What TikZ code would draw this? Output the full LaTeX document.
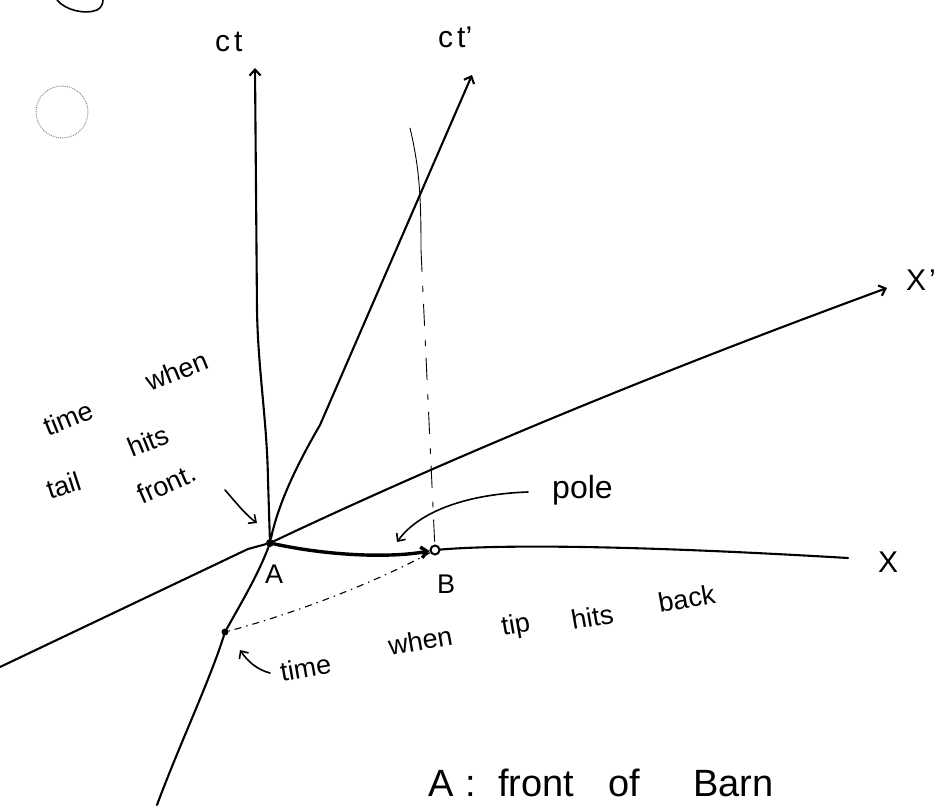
\documentclass[tikz,border=0pt]{standalone}
\usepackage{fontspec}
\setmainfont{Liberation Sans}
\usetikzlibrary{arrows.meta}
\begin{document}
\begin{tikzpicture}[x=1pt,y=-1pt,
  axis/.style={line width=2.1pt, line cap=round, line join=round},
  boldaxis/.style={line width=3.4pt, line cap=round},
  pointer/.style={line width=1.6pt, line cap=round, line join=round},
  barb/.style={-{Straight Barb[length=6pt,width=11pt]}},
  thinline/.style={line width=0.9pt, line cap=round},
  dashdot/.style={line width=1.1pt, dash pattern=on 7pt off 5pt on 1.5pt off 5pt},
  vdash/.style={line width=0.9pt, dash pattern=on 22pt off 14pt on 6pt off 12pt},
  pointdot/.style={circle, fill=black, inner sep=0pt, minimum size=8pt},
  ringdot/.style={circle, draw=black, line width=2pt, inner sep=0pt, minimum size=9pt},
  lbl/.style={inner sep=0pt, font=\fontsize{30}{34}\selectfont},
  ptlbl/.style={inner sep=0pt, font=\fontsize{27}{30}\selectfont},
  note/.style={inner sep=0pt, font=\fontsize{27}{30}\selectfont, anchor=base west},
  bignote/.style={inner sep=0pt, font=\fontsize{38}{42}\selectfont, anchor=base west}]
\useasboundingbox (0,0) rectangle (944,805);
\fill[white] (0,0) rectangle (944,805);

% scan artefacts
\draw[line width=1.6pt] (57,0) .. controls (65,10) and (85,15) .. (97,10) .. controls (101,8) and (103,4) .. (103,0);
\draw[gray, line width=0.9pt, densely dotted] (62,112) circle (26);

% points
\node[pointdot] (A) at (270,543) {};
\node[ringdot] (B) at (435,550) {};
\node[circle, fill=black, inner sep=0pt, minimum size=7pt] (D) at (225,632) {};

% coordinates
\coordinate (ctTop) at (255,68);
\coordinate (ctpTop) at (472,75);
\coordinate (xpTip) at (887,288);
\coordinate (xEnd) at (848,558);
\coordinate (xpStart) at (0,667);
\coordinate (ctBot) at (157,805);
\coordinate (vTop) at (410,128);
\coordinate (vMid) at (421,250);
\coordinate (poleStart) at (528,492);
\coordinate (poleTip) at (397,542);
\coordinate (frontStart) at (225,490);
\coordinate (frontTip) at (257,523);
\coordinate (backStart) at (270,673);
\coordinate (backTip) at (240,650);

% axes
\draw[axis, barb] (A) -- (268,480) .. controls (267,420) and (258,370) .. (257,310) -- (ctTop);
\draw[axis, barb] (A) .. controls (278,505) and (295,468) .. (320,425) -- (ctpTop);
\draw[axis] (xpStart) -- (248,549) -- (A);
\draw[axis, barb] (A) .. controls (450,458) and (650,375) .. (xpTip);
\draw[axis] (B) .. controls (520,543) and (680,548) .. (xEnd);
\draw[boldaxis, barb] (A) .. controls (330,556) and (390,558) .. (B);
\draw[axis] (A) .. controls (258,575) and (240,605) .. (D);
\draw[axis] (D) .. controls (210,680) and (178,748) .. (ctBot);

% dashed construction lines
\draw[dashdot] (B) .. controls (380,580) and (300,612) .. (D);
\draw[thinline] (vTop) .. controls (420,170) and (421,200) .. (vMid);
\draw[vdash] (vMid) -- (B);

% annotation arrows
\draw[pointer, barb] (poleStart) .. controls (470,494) and (420,510) .. (poleTip);
\draw[pointer, barb] (frontStart) .. controls (238,505) and (246,515) .. (frontTip);
\draw[pointer, barb] (backStart) .. controls (258,670) and (248,662) .. (backTip);

% labels
\node[lbl, anchor=base west] (ct) at (215,52) {c\hspace{4pt}t};
\node[lbl, anchor=base west] (ctp) at (438,48) {c\hspace{4pt}t'};
\node[lbl, anchor=base west] (xpl) at (906,290) {X\hspace{3pt}'};
\node[lbl, anchor=base west] (xl) at (878,572) {X};
\node[ptlbl, anchor=base west] (labA) at (265,583) {A};
\node[ptlbl, anchor=base west] (labB) at (437,593) {B};
\node[lbl, font=\fontsize{32}{36}\selectfont, anchor=base west] (pole) at (552,498) {pole};

% note: time when tail hits front.
\node[note, rotate=22] (w1) at (48,437) {time};
\node[note, rotate=22] (w2) at (150,392) {when};
\node[note, rotate=18] (w3) at (50,500) {tail};
\node[note, rotate=22] (w4) at (132,458) {hits};
\node[note, rotate=24] (w5) at (142,505) {front.};

% note: time when tip hits back
\node[note, rotate=10] (w6) at (282,682) {time};
\node[note, rotate=10] (w7) at (390,656) {when};
\node[note, rotate=10] (w8) at (503,636) {tip};
\node[note, rotate=10] (w9) at (573,630) {hits};
\node[note, rotate=10] (w10) at (660,613) {back};

% caption
\node[bignote] (n5) at (428,796)
  {\makebox[37pt][l]{A}\makebox[33pt][l]{:}\makebox[110pt][l]{front}\makebox[85pt][l]{of}Barn};
\end{tikzpicture}
\end{document}
